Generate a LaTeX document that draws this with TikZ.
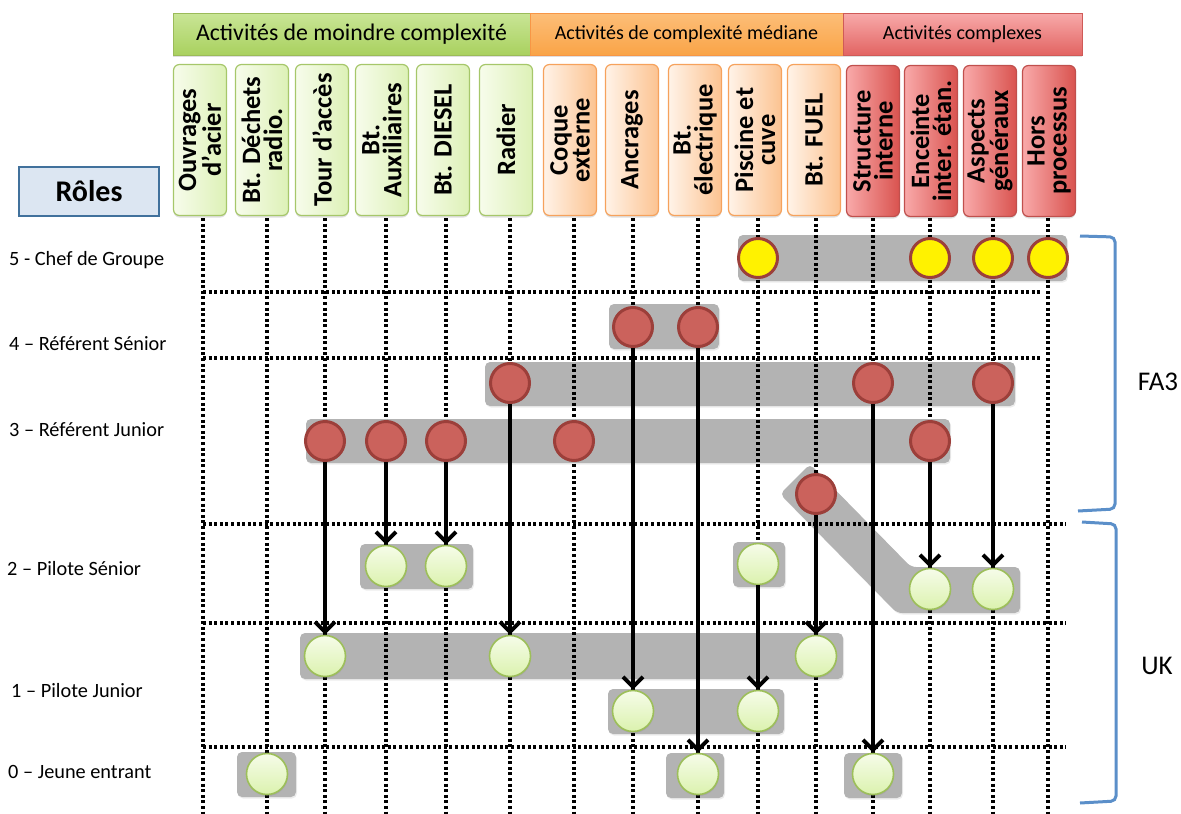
\documentclass[tikz,border=0pt]{standalone}
\usepackage{fontspec}
\setmainfont{Carlito}
\usetikzlibrary{arrows.meta,shadows}
\definecolor{hgT}{HTML}{C9E596}
\definecolor{hgB}{HTML}{A9D15F}
\definecolor{hgD}{HTML}{9BBB59}
\definecolor{hoT}{HTML}{FDBE78}
\definecolor{hoB}{HTML}{F9A447}
\definecolor{hoD}{HTML}{F79646}
\definecolor{hrT}{HTML}{F8AAAA}
\definecolor{hrB}{HTML}{E26462}
\definecolor{hrD}{HTML}{CF5A57}
\definecolor{bgL}{HTML}{F7FCEC}
\definecolor{bgR}{HTML}{DDF1B6}
\definecolor{bgD}{HTML}{A6C76A}
\definecolor{boL}{HTML}{FFF3E8}
\definecolor{boR}{HTML}{FCC391}
\definecolor{boD}{HTML}{F6A25C}
\definecolor{brL}{HTML}{F9AAAA}
\definecolor{brR}{HTML}{D9534F}
\definecolor{brD}{HTML}{C0504D}
\definecolor{bandgray}{HTML}{B3B3B3}
\definecolor{redfill}{HTML}{CB625C}
\definecolor{circD}{HTML}{9C3F3A}
\definecolor{gcT}{HTML}{F6FCE9}
\definecolor{gcB}{HTML}{DBF2AE}
\definecolor{gcD}{HTML}{9DBF5A}
\definecolor{roleF}{HTML}{DCE6F2}
\definecolor{roleD}{HTML}{41719C}
\definecolor{braceC}{HTML}{5B8FC9}
\begin{document}
\begin{tikzpicture}[x=1pt,y=-1pt,
  hdr/.style={line width=1pt, inner sep=0pt, drop shadow={opacity=0.25,shadow xshift=0pt,shadow yshift=-2pt}},
  hgreen/.style={hdr, draw=hgD, top color=hgT, bottom color=hgB},
  horange/.style={hdr, draw=hoD, top color=hoT, bottom color=hoB},
  hred/.style={hdr, draw=hrD, top color=hrT, bottom color=hrB},
  colbox/.style={rounded corners=6pt, minimum width=53pt, minimum height=151pt, line width=1.2pt, inner sep=0pt,
    drop shadow={opacity=0.25,shadow xshift=0pt,shadow yshift=-2pt}},
  gcol/.style={colbox, draw=bgD, left color=bgL, right color=bgR},
  ocol/.style={colbox, draw=boD, left color=boL, right color=boR},
  rcol/.style={colbox, draw=brD, left color=brL, right color=brR},
  coltext/.style={rotate=90, align=center, inner sep=0pt, font=\bfseries\fontsize{26.5}{22}\selectfont},
  rowlab/.style={anchor=west, inner sep=0pt, font=\fontsize{20.3}{24}\selectfont},
  band/.style={fill=bandgray, rounded corners=5pt, drop shadow={opacity=0.15,shadow xshift=1pt,shadow yshift=-1.5pt}},
  gridline/.style={line width=3.2pt, dash pattern=on 3pt off 2.6pt},
  arr/.style={line width=4pt, -{Straight Barb[length=10pt,width=20pt]}},
  rc/.style={circle, inner sep=0pt, drop shadow={opacity=0.25,shadow xshift=0.5pt,shadow yshift=-1.5pt}},
  ycirc/.style={rc, minimum size=39pt, fill=yellow, draw=circD, line width=3pt},
  rcirc/.style={rc, minimum size=39pt, fill=redfill, draw=circD, line width=3pt},
  gcirc/.style={rc, minimum size=41pt, top color=gcT, bottom color=gcB, draw=gcD, line width=1.6pt},
  bracestyle/.style={draw=braceC, line width=3pt, rounded corners=5pt}
]
\useasboundingbox (0,0) rectangle (1181,814);

% ---------- header bands ----------
\node[hgreen, minimum width=357pt, minimum height=42pt] (hg) at (351.5,34) {};
\node[horange, minimum width=313pt, minimum height=42pt] (ho) at (686.5,34) {};
\node[hred, minimum width=239pt, minimum height=42pt] (hr) at (962.5,34) {};
\node[font=\fontsize{23.8}{26}\selectfont, inner sep=0pt] (hgt) at (hg) {Activités de moindre complexité};
\node[font=\fontsize{20}{24}\selectfont, inner sep=0pt] (hot) at (ho) {Activités de complexité médiane};
\node[font=\fontsize{20}{24}\selectfont, inner sep=0pt] (hrt) at (hr) {Activités complexes};

% ---------- column boxes ----------
\node[gcol] (c1) at (200,140) {};
\node[gcol] (c2) at (262,140) {};
\node[gcol] (c3) at (322,140) {};
\node[gcol] (c4) at (382,140) {};
\node[gcol] (c5) at (443,140) {};
\node[gcol] (c6) at (506,140) {};
\node[ocol] (c7) at (570,140) {};
\node[ocol] (c8) at (632,140) {};
\node[ocol] (c9) at (695,140) {};
\node[ocol] (c10) at (755,140) {};
\node[ocol] (c11) at (814,140) {};
\node[rcol] (c12) at (873,141) {};
\node[rcol] (c13) at (931,141) {};
\node[rcol] (c14) at (990,141) {};
\node[rcol] (c15) at (1049,141) {};
\node[coltext] (t1) at (c1) {Ouvrages\\d’acier};
\node[coltext] (t2) at (c2) {Bt. Déchets\\radio.};
\node[coltext] (t3) at (c3) {Tour d’accès};
\node[coltext] (t4) at (c4) {Bt.\\Auxiliaires};
\node[coltext] (t5) at (c5) {Bt. DIESEL};
\node[coltext] (t6) at (c6) {Radier};
\node[coltext] (t7) at (c7) {Coque\\externe};
\node[coltext] (t8) at (c8) {Ancrages};
\node[coltext] (t9) at (c9) {Bt.\\électrique};
\node[coltext] (t10) at (c10) {Piscine et\\cuve};
\node[coltext] (t11) at (c11) {Bt. FUEL};
\node[coltext] (t12) at (c12) {Structure\\interne};
\node[coltext] (t13) at (c13) {Enceinte\\inter. étan.};
\node[coltext] (t14) at (c14) {Aspects\\généraux};
\node[coltext] (t15) at (c15) {Hors\\processus};

% ---------- roles box and labels ----------
\node[draw=roleD, fill=roleF, line width=1.5pt, minimum width=140pt, minimum height=49pt, inner sep=0pt,
      font=\bfseries\fontsize{30}{34}\selectfont] (roles) at (89,191.5) {Rôles};
\node[rowlab] (l5) at (9,260) {5 - Chef de Groupe};
\node[rowlab] (l4) at (9,344) {4 – Référent Sénior};
\node[rowlab] (l3) at (9,430) {3 – Référent Junior};
\node[rowlab] (l2) at (7,569) {2 – Pilote Sénior};
\node[rowlab] (l1) at (11,691) {1 – Pilote Junior};
\node[rowlab] (l0) at (8,772) {0 – Jeune entrant};

% ---------- gray bands ----------
\path[band] (738,235) rectangle (1067,281);
\path[band] (609,304) rectangle (719,349);
\path[band] (485,362) rectangle (1015,406);
\path[band] (306,419) rectangle (950,463);
\path[band] (780,494) -- (810,464) -- (911,567) -- (1020,567) -- (1020,613) -- (897,613) -- cycle;
\path[band] (360,544) rectangle (473,589);
\path[band] (733,542) rectangle (785,587);
\path[band] (300,633) rectangle (843,679);
\path[band] (608,689) rectangle (784,734);
\path[band] (237,752) rectangle (296,797);
\path[band] (666,753) rectangle (724,798);
\path[band] (844,753) rectangle (902,798);

% ---------- dotted grid ----------
\foreach \x in {203,267,325,386,446,510,574,633,698,758,816,873,930,993,1048}
  \draw[gridline] (\x,218) -- (\x,814);
\foreach \y in {292,358}
  \draw[gridline] (203,\y) -- (1042,\y);
\foreach \y in {524,623,747}
  \draw[gridline] (203,\y) -- (1066,\y);

% ---------- circles ----------
\node[ycirc] (y1) at (758,258) {};
\node[ycirc] (y2) at (930,258) {};
\node[ycirc] (y3) at (993,258) {};
\node[ycirc] (y4) at (1048,258) {};

\node[rcirc] (a1) at (633,327) {};
\node[rcirc] (a2) at (698,327) {};
\node[rcirc] (b1) at (510,383) {};
\node[rcirc] (b2) at (873,383) {};
\node[rcirc] (b3) at (993,383) {};
\node[rcirc] (j1) at (325,441) {};
\node[rcirc] (j2) at (386,441) {};
\node[rcirc] (j3) at (446,441) {};
\node[rcirc] (j4) at (574,441) {};
\node[rcirc] (j5) at (930,441) {};
\node[rcirc] (d1) at (816,494) {};

\node[gcirc] (s1) at (386,566) {};
\node[gcirc] (s2) at (446,566) {};
\node[gcirc] (s3) at (758,564) {};
\node[gcirc] (s4) at (930,589) {};
\node[gcirc] (s5) at (993,589) {};
\node[gcirc] (p1) at (325,656) {};
\node[gcirc] (p2) at (510,656) {};
\node[gcirc] (p3) at (816,656) {};
\node[gcirc] (p4) at (633,711) {};
\node[gcirc] (p5) at (758,711) {};
\node[gcirc] (e1) at (267,774) {};
\node[gcirc] (e2) at (698,774) {};
\node[gcirc] (e3) at (873,774) {};

% ---------- arrows ----------
\draw[arr] (j1) -- (p1);
\draw[arr] (j2) -- (s1);
\draw[arr] (j3) -- (s2);
\draw[arr] (b1) -- (p2);
\draw[arr] (a1) -- (p4);
\draw[arr] (a2) -- (e2);
\draw[arr] (s3) -- (p5);
\draw[arr] (d1) -- (p3);
\draw[arr] (b2) -- (e3);
\draw[arr] (j5) -- (s4);
\draw[arr] (b3) -- (s5);

% ---------- braces ----------
\draw[bracestyle] (1080,236) -- (1115,237) -- (1115,509) -- (1078,511);
\draw[bracestyle] (1082,522) -- (1116,524) -- (1116,801) -- (1080,803);
\node[font=\fontsize{27}{30}\selectfont, inner sep=0pt] (fa3) at (1158,382) {FA3};
\node[font=\fontsize{27}{30}\selectfont, inner sep=0pt] (uk) at (1157,666) {UK};
\end{tikzpicture}
\end{document}
